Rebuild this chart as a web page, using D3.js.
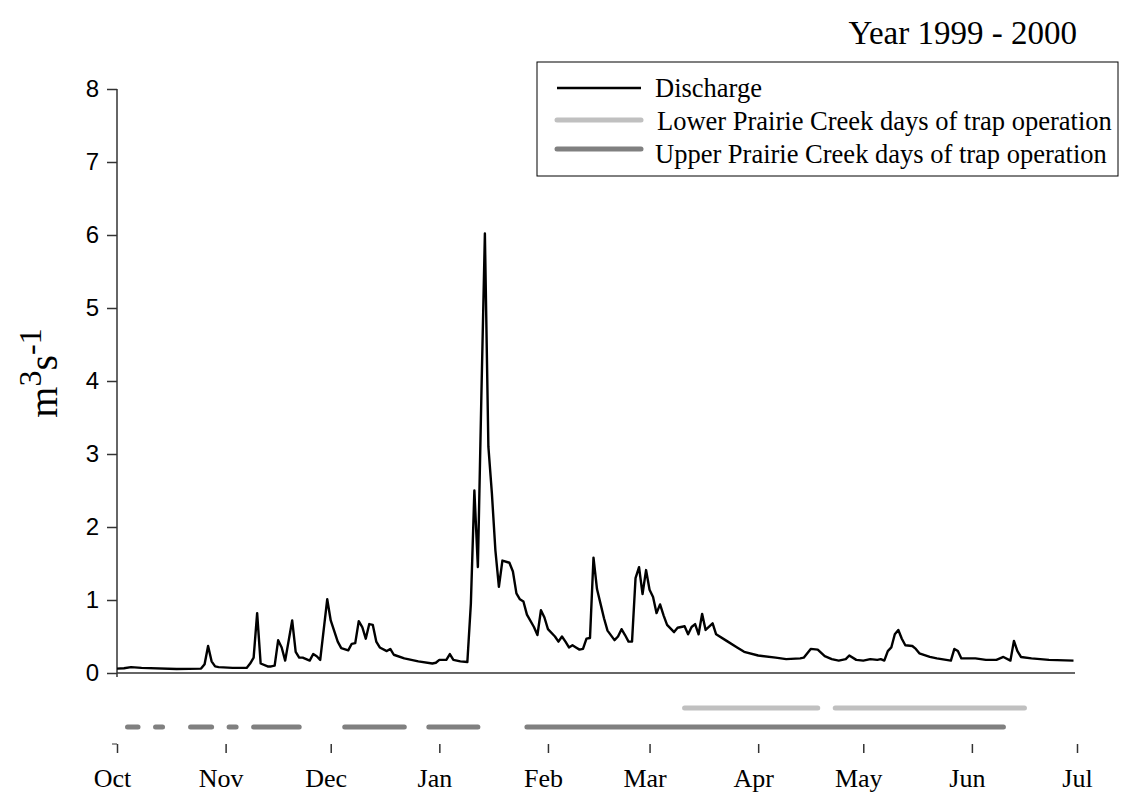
<!DOCTYPE html>
<html lang="en">
<head>
  <meta charset="UTF-8">
  <script src="https://d3js.org/d3.v7.min.js"></script>
  <title>Discharge 1999 - 2000</title>
  <style>
    body { margin: 0; background: #fff; }
    .serif { font-family: "Liberation Serif", "Times New Roman", serif; }
    .sans { font-family: "Liberation Sans", Arial, sans-serif; }
  </style>
</head>
<body>
  <div id="wrapper"></div>
  <script>
    // discharge: days after 1 Oct 1999 and m3/s
    const dischargeDay = [
      0, 2, 4, 7, 17, 24, 25, 26, 27, 28, 29,                  // Oct
      33, 37, 38, 39, 40, 41, 43, 44, 45, 46, 47, 48, 50, 51, 52, 53, 55, 56, 57, 58, 60,   // Nov
      61, 63, 64, 66, 67, 68, 69, 70, 71, 72, 73, 74, 75, 77, 78, 79, 82, 86, 90, 91,     // Dec
      92, 94, 95, 96, 98, 100, 101, 102, 103, 104, 105, 106, 107, 108, 109, 110, 112, 113,
      114, 115, 116, 117, 119, 120, 121, 122,                   // Jan
      123, 125, 126, 127, 128, 129, 130, 131, 132, 133, 134, 135, 136, 137, 138, 139, 140,
      142, 143, 144, 145, 146, 147, 148, 149, 150, 151,         // Feb
      152, 153, 154, 155, 156, 157, 159, 160, 162, 163, 164, 165, 166, 167, 168, 170, 171,
      174, 177, 179,                                            // Mar
      183, 188, 191, 195, 196, 198, 200, 202, 204, 206, 208, 209, 211,   // Apr
      213, 215, 217, 218, 219, 220, 221, 222, 223, 224, 225, 227, 228, 229, 232, 234, 238,
      239, 240, 241,                                            // May
      245, 248, 251, 253, 255, 256, 257, 258, 261, 266, 273     // Jun
    ]
    const dischargeValue = [
      0.06, 0.065, 0.08, 0.07, 0.055, 0.06, 0.12, 0.37, 0.16, 0.09, 0.08,
      0.07, 0.07, 0.13, 0.21, 0.82, 0.13, 0.09, 0.09, 0.10, 0.45, 0.35, 0.17, 0.72, 0.29, 0.21, 0.21, 0.17, 0.26, 0.23, 0.18, 1.01,
      0.72, 0.43, 0.34, 0.31, 0.40, 0.41, 0.71, 0.63, 0.47, 0.67, 0.66, 0.43, 0.35, 0.30, 0.33, 0.25, 0.20, 0.16, 0.13, 0.14,
      0.18, 0.18, 0.26, 0.18, 0.16, 0.15, 0.95, 2.50, 1.45, 3.80, 6.02, 3.10, 2.46, 1.68, 1.18, 1.54, 1.51, 1.39,
      1.09, 1.01, 0.98, 0.80, 0.63, 0.52, 0.86, 0.76,
      0.60, 0.50, 0.43, 0.50, 0.43, 0.35, 0.38, 0.35, 0.32, 0.33, 0.47, 0.48, 1.58, 1.15, 0.95, 0.75, 0.58,
      0.45, 0.50, 0.60, 0.52, 0.43, 0.43, 1.30, 1.45, 1.08, 1.41,
      1.14, 1.04, 0.82, 0.94, 0.79, 0.66, 0.56, 0.62, 0.64, 0.53, 0.63, 0.67, 0.53, 0.81, 0.59, 0.68, 0.53,
      0.44, 0.35, 0.29,
      0.24, 0.21, 0.19, 0.20, 0.21, 0.33, 0.32, 0.23, 0.19, 0.17, 0.19, 0.24, 0.18,
      0.17, 0.19, 0.18, 0.19, 0.17, 0.30, 0.35, 0.53, 0.59, 0.47, 0.38, 0.37, 0.33, 0.27, 0.22, 0.20, 0.17,
      0.33, 0.30, 0.20,
      0.20, 0.18, 0.18, 0.22, 0.17, 0.44, 0.30, 0.22, 0.20, 0.18, 0.17
    ]

    // trap operation periods
    const upperStart = ["1999-10-04", "1999-10-12", "1999-10-22", "1999-11-02", "1999-11-09", "1999-12-05", "1999-12-29", "2000-01-26"]
    const upperEnd   = ["1999-10-07", "1999-10-14", "1999-10-28", "1999-11-04", "1999-11-22", "1999-12-22", "2000-01-12", "2000-06-10"]
    const lowerStart = ["2000-03-11", "2000-04-23"]
    const lowerEnd   = ["2000-04-18", "2000-06-16"]

    const yTicks = [0, 1, 2, 3, 4, 5, 6, 7, 8]
    const legendLabels = ["Discharge", "Lower Prairie Creek days of trap operation", "Upper Prairie Creek days of trap operation"]
    const titleText = "Year 1999 - 2000"

    const dimensions = {
      width: 1121,
      height: 799,
      margin: { top: 89, left: 117 },
      boundedWidth: 960,
      boundedHeight: 584,
      lowerY: 708,
      upperY: 727,
      tickRowY: 744
    }

    const parse = d3.timeParse("%Y-%m-%d")
    const start = new Date(1999, 9, 1)
    const end = new Date(2000, 6, 1)

    const dataset = dischargeDay.map((d, i) => ({ date: d3.timeDay.offset(start, d), value: dischargeValue[i] }))

    const svg = d3.select("#wrapper")
        .append("svg")
        .attr("width", dimensions.width)
        .attr("height", dimensions.height)

    const xScale = d3.scaleTime()
        .domain([start, end])
        .range([dimensions.margin.left, dimensions.margin.left + dimensions.boundedWidth])

    const yScale = d3.scaleLinear()
        .domain([0, 8])
        .range([dimensions.margin.top + dimensions.boundedHeight, dimensions.margin.top])

    /* title */
    svg.append("text")
        .attr("class", "serif")
        .attr("x", xScale(end))
        .attr("y", 44)
        .attr("text-anchor", "end")
        .style("font-size", "33px")
        .text(titleText)

    /* y axis */
    const yAxis = svg.append("g")
        .attr("transform", `translate(${dimensions.margin.left},0)`)
        .call(d3.axisLeft(yScale).tickValues(yTicks).tickSize(10).tickSizeOuter(0).tickPadding(8))
    yAxis.selectAll("text").attr("class", "sans").style("font-size", "24px").attr("fill", "#000")
    yAxis.selectAll("line, path").attr("stroke", "#333").attr("stroke-width", 1.5)
    yAxis.select(".domain").attr("d", `M0,${yScale(8)}V${yScale(0) + 4}`)

    // y label m3 s-1
    const yLabel = svg.append("text")
        .attr("class", "serif")
        .attr("transform", `translate(57, ${yScale(4) - 8}) rotate(-90)`)
        .attr("text-anchor", "middle")
        .style("font-size", "40px")
    yLabel.append("tspan").text("m")
    yLabel.append("tspan").attr("dy", -16).style("font-size", "32px").text("3")
    yLabel.append("tspan").attr("dy", 16).text("s")
    yLabel.append("tspan").attr("dy", -16).style("font-size", "32px").text("-1")

    /* zero line */
    svg.append("line")
        .attr("x1", xScale(start))
        .attr("x2", xScale(end) - 2)
        .attr("y1", yScale(0))
        .attr("y2", yScale(0))
        .attr("stroke", "#333")
        .attr("stroke-width", 1.5)

    /* discharge */
    const lineGen = d3.line()
        .x(d => xScale(d.date))
        .y(d => yScale(d.value))

    svg.append("path")
        .datum(dataset)
        .attr("d", lineGen)
        .attr("fill", "none")
        .attr("stroke", "#000")
        .attr("stroke-width", 2.4)
        .attr("stroke-linejoin", "round")

    /* trap operation bars */
    const drawBars = (starts, ends, y, color) => {
      svg.append("g")
        .selectAll("line")
        .data(starts.map((s, i) => ({ s: parse(s), e: parse(ends[i]) })))
        .enter()
        .append("line")
        .attr("x1", d => xScale(d.s))
        .attr("x2", d => xScale(d.e))
        .attr("y1", y)
        .attr("y2", y)
        .attr("stroke", color)
        .attr("stroke-width", 5)
        .attr("stroke-linecap", "round")
    }
    drawBars(lowerStart, lowerEnd, dimensions.lowerY, "#c0c0c0")
    drawBars(upperStart, upperEnd, dimensions.upperY, "#808080")

    /* month axis */
    const xAxis = svg.append("g")
        .attr("transform", `translate(0,${dimensions.tickRowY})`)
        .call(d3.axisBottom(xScale).ticks(d3.timeMonth.every(1)).tickFormat(d3.timeFormat("%b")).tickSize(9).tickPadding(16))
    xAxis.select(".domain").remove()
    xAxis.selectAll("line").attr("stroke", "#333").attr("stroke-width", 1.5)
    xAxis.selectAll("text")
        .attr("class", "serif")
        .style("font-size", "26px")
        .attr("fill", "#000")
        .attr("dx", (d, i, n) => i < n.length - 1 ? -5 : 0)
    xAxis.append("line")
        .attr("x1", xScale(start) - 5).attr("x2", xScale(start))
        .attr("y1", 0).attr("y2", 0)
        .attr("stroke", "#333").attr("stroke-width", 1)

    /* legend */
    const legend = svg.append("g").attr("transform", "translate(537,62)")
    legend.append("rect")
        .attr("width", 581).attr("height", 114)
        .attr("fill", "#fff").attr("stroke", "#000").attr("stroke-width", 1)
    const legendColors = ["#000", "#c0c0c0", "#808080"]
    const legendWidths = [2.4, 5, 5]
    const legendRowY = [26, 58, 87]
    const legendTextY = [35, 68, 101]
    legendLabels.forEach((label, i) => {
      legend.append("line")
          .attr("x1", 20).attr("x2", 104)
          .attr("y1", legendRowY[i]).attr("y2", legendRowY[i])
          .attr("stroke", legendColors[i]).attr("stroke-width", legendWidths[i])
          .attr("stroke-linecap", i ? "round" : "butt")
      legend.append("text")
          .attr("class", "serif")
          .attr("x", i === 1 ? 120 : 118)
          .attr("y", legendTextY[i])
          .style("font-size", "26.5px")
          .text(label)
    })
  </script>
</body>
</html>
